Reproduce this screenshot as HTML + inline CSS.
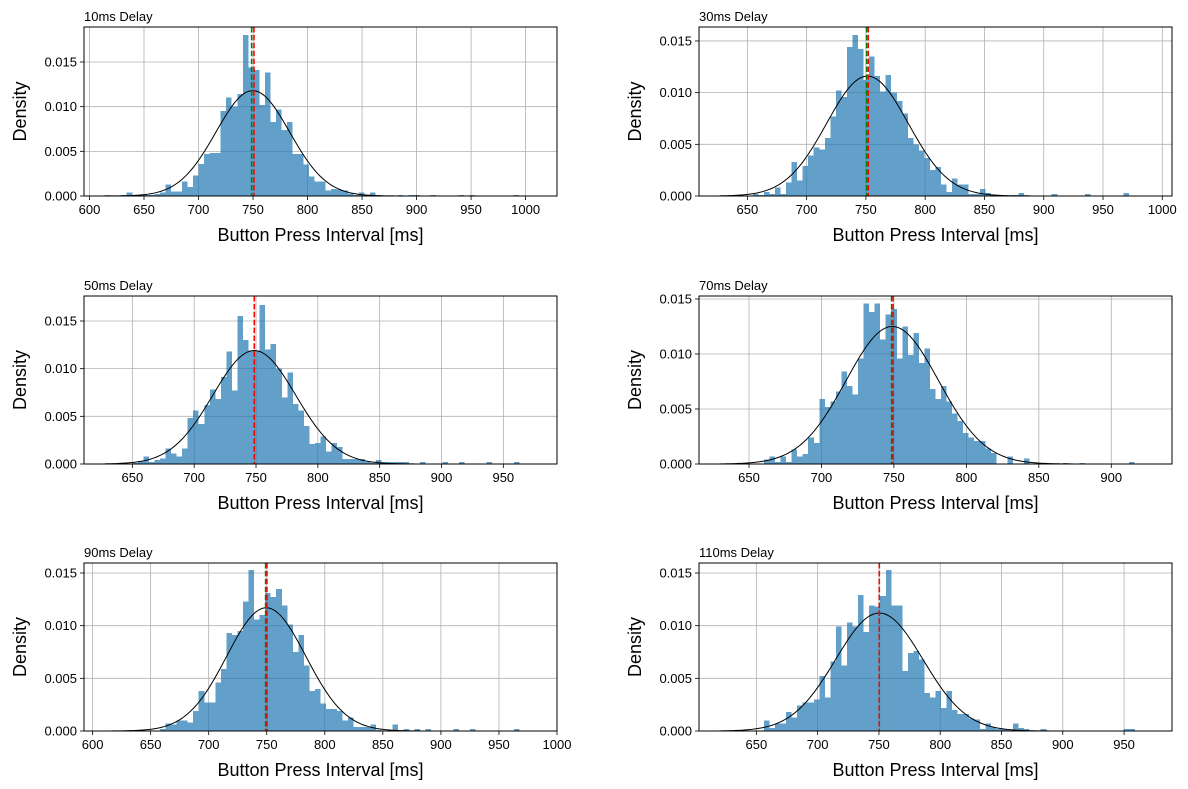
<!DOCTYPE html>
<html><head><meta charset="utf-8"><style>
html,body{margin:0;padding:0;background:#fff;}
svg{display:block;font-family:"Liberation Sans","DejaVu Sans",sans-serif;}
</style></head><body>
<svg id="fig" width="1188" height="789" viewBox="0 0 1188 789"></svg>
<script>
const titles = ["10ms Delay","30ms Delay","50ms Delay","70ms Delay","90ms Delay","110ms Delay"];
const dataStart = [613.9, 626.6, 627.6, 629.8, 610.4, 620.1];
const dataEnd = [1009.2, 990.8, 976.7, 927.6, 982.2, 972.3];
const meanVals = [750.9, 752.0, 748.6, 749.4, 750.2, 750.3];
const medianVals = [748.7, 750.6, 748.6, 748.4, 749.0, 750.3];
const peakVals = [0.0118, 0.0116, 0.0119, 0.0125, 0.0117, 0.0112];
const xTicks0 = [600,650,700,750,800,850,900,950,1000];
const xTicks1 = [650,700,750,800,850,900,950,1000];
const xTicks2 = [650,700,750,800,850,900,950];
const xTicks3 = [650,700,750,800,850,900];
const xTicks4 = [600,650,700,750,800,850,900,950,1000];
const xTicks5 = [650,700,750,800,850,900,950];
const yTicks = [0,0.005,0.010,0.015];
const yTickLabels = ["0.000","0.005","0.010","0.015"];
const hist0 = [0.0001,0,0,0.0001,0.0004,0.0001,0.0001,0.0001,0.0001,0.0002,0.0004,0.0013,0.0005,0.0005,0.0016,0.001,0.0023,0.0036,0.0047,0.0048,0.0048,0.0095,0.011,0.010,0.0114,0.018,0.0144,0.0141,0.0102,0.0138,0.0083,0.0097,0.0074,0.0083,0.0047,0.0047,0.0035,0.0022,0.0016,0.0016,0.0006,0.0008,0.0007,0.0006,0.0003,0.0001,0.0004,0.0001,0.0004,0.0001,0,0,0,0.0001,0,0.0001,0.0001,0,0,0.0001,0,0,0,0,0.0001,0,0.0001,0,0,0,0,0,0,0,0.0001,0,0,0];
const hist1 = [0,0,0,0,0,0,0.0002,0.0001,0.0004,0.0002,0.0008,0.0002,0.0013,0.0033,0.0015,0.0029,0.0039,0.0047,0.0045,0.0056,0.0077,0.0102,0.0096,0.0144,0.0156,0.0142,0.0112,0.0135,0.0116,0.0101,0.0117,0.010,0.0092,0.008,0.0056,0.005,0.0044,0.0037,0.0025,0.0028,0.0011,0.0004,0.0017,0.0011,0.0011,0.0002,0.0002,0.0007,0.0003,0.0001,0,0,0,0.0001,0.0003,0.0001,0,0,0,0,0.0002,0,0,0,0,0,0.0002,0,0,0,0,0,0,0.0003,0,0,0,0];
const hist2 = [0,0,0,0,0,0.0001,0.0003,0.0008,0.0002,0.0004,0.0006,0.0016,0.0011,0.0008,0.0016,0.0048,0.0056,0.0042,0.0062,0.0078,0.0068,0.0091,0.0118,0.0077,0.0155,0.013,0.0119,0.0119,0.0167,0.012,0.0126,0.010,0.007,0.0096,0.0063,0.0056,0.004,0.0021,0.0022,0.0029,0.0013,0.0022,0.0018,0.0005,0.0005,0.0005,0.0005,0.0002,0.0001,0.0004,0.0002,0.0002,0.0002,0.0002,0.0002,0,0,0.0002,0,0,0,0.0002,0,0,0.0002,0,0,0,0,0.0002,0,0,0,0,0.0002,0,0,0];
const hist3 = [0,0,0,0,0.0001,0,0,0,0.0004,0.0007,0.0002,0.0007,0.0002,0.0013,0.0007,0.0009,0.0024,0.0019,0.0059,0.0052,0.0057,0.0066,0.0084,0.0071,0.0063,0.0096,0.0146,0.0138,0.0146,0.0113,0.0136,0.0141,0.0096,0.0125,0.0099,0.0119,0.0092,0.0105,0.0068,0.0059,0.0071,0.0057,0.0046,0.0039,0.0028,0.0024,0.0021,0.0021,0.0014,0.001,0,0,0.0007,0,0,0.0005,0,0,0,0,0,0,0.0001,0,0,0.0001,0,0,0,0,0,0,0,0,0.0002,0,0,0];
const hist4 = [0,0,0,0,0.0001,0,0.0001,0,0,0,0.0002,0.0007,0.0006,0.001,0.001,0.0008,0.0019,0.0038,0.0027,0.0027,0.0046,0.0059,0.0093,0.0091,0.0095,0.0123,0.0153,0.0106,0.011,0.0131,0.0127,0.0135,0.0119,0.0101,0.0075,0.0091,0.0062,0.0038,0.004,0.0026,0.0021,0.0021,0.0019,0.001,0.0013,0.0004,0.0004,0.0004,0.0006,0.0001,0,0,0.0006,0,0.0002,0,0.0002,0,0.0002,0,0,0,0,0.0002,0,0,0.0002,0,0,0,0,0,0,0,0.0002,0,0,0];
const hist5 = [0,0,0,0,0,0,0,0,0.001,0.0003,0.0007,0.0007,0.0018,0.0013,0.0024,0.0027,0.0027,0.003,0.0052,0.0032,0.0066,0.0099,0.0062,0.0103,0.0099,0.0129,0.0094,0.0119,0.0118,0.0128,0.0153,0.0119,0.0119,0.0057,0.0074,0.0076,0.0068,0.0036,0.0032,0.0038,0.0022,0.0038,0.002,0.0016,0.0016,0.0012,0.0011,0.0002,0.0007,0.0004,0.0002,0.0002,0.0001,0.0007,0.0003,0.0002,0,0,0.0002,0,0,0,0,0,0,0,0,0,0,0,0,0,0,0.0002,0.0002,0,0,0];
const hists = [hist0,hist1,hist2,hist3,hist4,hist5];
const xTickSets = [xTicks0,xTicks1,xTicks2,xTicks3,xTicks4,xTicks5];
const xDomains = [[594.97,1028.8],[609.2,1008.2],[610.9,993.4],[615.5,941.9],[592.6,1000.0],[603.2,989.1]];
const yMaxes = [0.01892,0.01635,0.01762,0.01527,0.01595,0.01595];

const NS="http://www.w3.org/2000/svg";
const svg=document.getElementById('fig');
function mk(tag,attrs,parent){const e=document.createElementNS(NS,tag);for(const k in attrs)e.setAttribute(k,attrs[k]);(parent||svg).appendChild(e);return e;}
const boxes=[[84,27],[699,27],[84,296],[699,296],[84,563],[699,563]];
const W=473,H=[169,169,168,168,168,168];
for(let p=0;p<6;p++){
  const [L,T]=boxes[p];const h=H[p];const B=T+h;
  const g=mk('g',{});
  
  
  const [x0,x1]=xDomains[p];const ym=yMaxes[p];
  const X=v=>L+(v-x0)/(x1-x0)*W;
  const Y=v=>B-v/ym*h;
  xTickSets[p].forEach(v=>{const x=X(v);const ln=mk('line',{x1:x,x2:x,y1:T,y2:B,stroke:'#b0b0b0','stroke-width':0.8},g);
    });
  yTicks.forEach(v=>{const y=Y(v);const ln=mk('line',{x1:L,x2:L+W,y1:y,y2:y,stroke:'#b0b0b0','stroke-width':0.8},g);
    });
  const hs=hists[p];const n=hs.length;const bw=(dataEnd[p]-dataStart[p])/n;
  hs.forEach((v,i)=>{if(v<=0)return;const xa=X(dataStart[p]+i*bw),xb=X(dataStart[p]+(i+1)*bw);
    const r=mk('rect',{x:xa,y:Y(v),width:xb-xa,height:B-Y(v),fill:'#1f77b4','fill-opacity':0.7,'shape-rendering':'crispEdges'},g);
    });
  const sd=1/(peakVals[p]*Math.sqrt(2*Math.PI));const mu=(meanVals[p]+medianVals[p])/2;
  let d='';for(let k=0;k<=200;k++){const v=dataStart[p]+(dataEnd[p]-dataStart[p])*k/200;
    const dens=Math.exp(-0.5*((v-mu)/sd)**2)/(sd*Math.sqrt(2*Math.PI));d+=(k?'L':'M')+X(v).toFixed(2)+','+Y(dens).toFixed(2);}
  const c=mk('path',{d:d,fill:'none',stroke:'#000','stroke-width':1},g);
  
  const gm=mk('line',{x1:X(medianVals[p]),x2:X(medianVals[p]),y1:T,y2:B,stroke:'green','stroke-width':1.5,'stroke-dasharray':'5.5,2.4'},g);
  
  const rm=mk('line',{x1:X(meanVals[p]),x2:X(meanVals[p]),y1:T,y2:B,stroke:'red','stroke-width':1.5,'stroke-dasharray':'5.5,2.4'},g);
  
  const fr=mk('rect',{x:L,y:T,width:W,height:h,fill:'none',stroke:'#000','stroke-width':1},g);
  
  xTickSets[p].forEach(v=>{const x=X(v);mk('line',{x1:x,x2:x,y1:B,y2:B+4,stroke:'#000','stroke-width':0.8},g);
    const t=mk('text',{x:x,y:B+18,'font-size':13,'text-anchor':'middle',fill:'#000'},g);t.textContent=v;
    });
  yTicks.forEach((v,i)=>{const y=Y(v);mk('line',{x1:L-4,x2:L,y1:y,y2:y,stroke:'#000','stroke-width':0.8},g);
    const t=mk('text',{x:L-7,y:y+4.5,'font-size':13,'text-anchor':'end',fill:'#000'},g);t.textContent=yTickLabels[i];
    });
  const tt=mk('text',{x:L,y:T-6,'font-size':13,fill:'#000'},g);tt.textContent=titles[p];
  
  const xl=mk('text',{x:L+W/2,y:B+45,'font-size':18,'text-anchor':'middle',fill:'#000'},g);xl.textContent='Button Press Interval [ms]';
  
  const yx=L-58,yy=T+h/2;
  const yl=mk('text',{x:yx,y:yy,'font-size':18,'text-anchor':'middle',fill:'#000',transform:`rotate(-90 ${yx} ${yy})`},g);yl.textContent='Density';
  
}
</script>
</body></html>
